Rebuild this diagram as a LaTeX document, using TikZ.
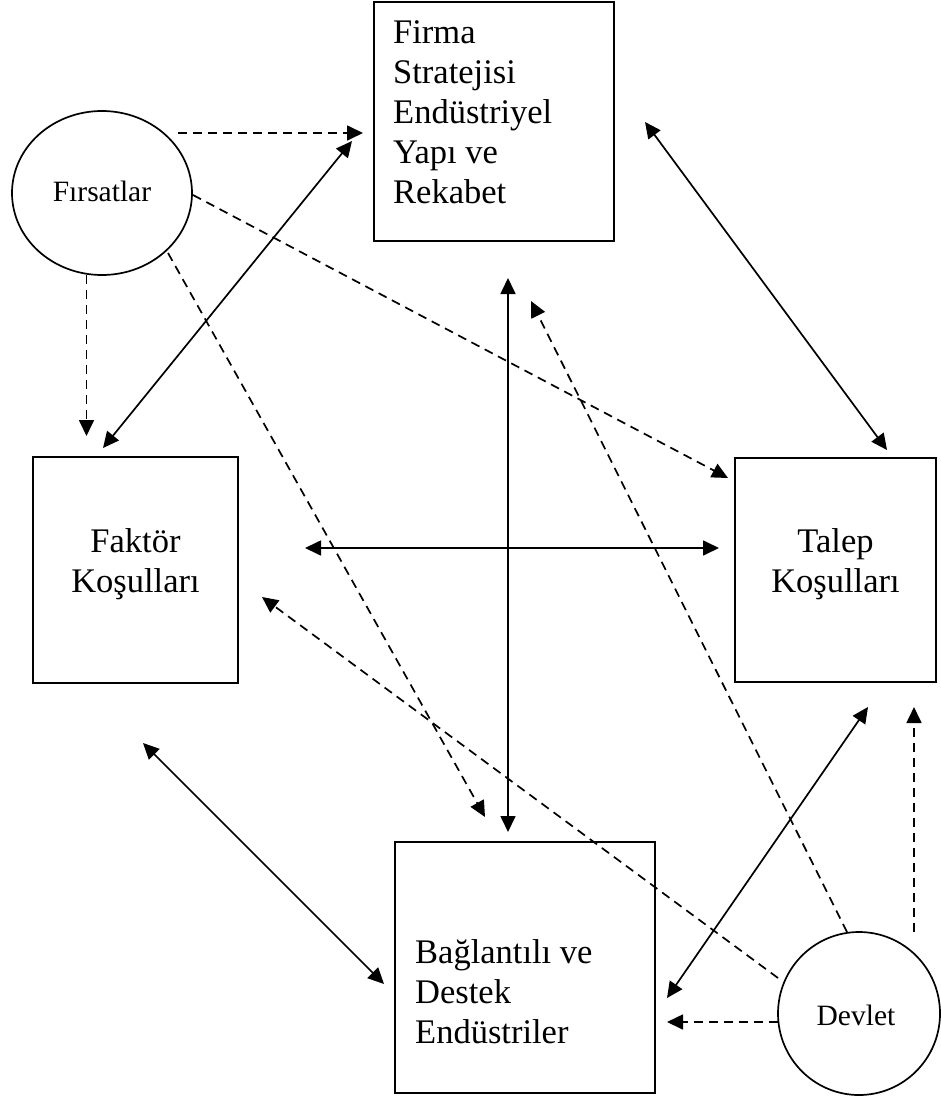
\documentclass[tikz,border=0pt]{standalone}
\usepackage{fontspec}
\setmainfont{Liberation Serif}
\usetikzlibrary{arrows.meta,shapes.geometric}
\begin{document}
\begin{tikzpicture}[x=1pt,y=-1pt,
  box/.style={draw,line width=2pt,inner sep=0pt},
  oval/.style={draw,ellipse,line width=1.7pt,inner sep=0pt},
  boxtext/.style={inner sep=0pt,font=\fontsize{34.5}{40}\selectfont},
  ovaltext/.style={inner sep=0pt,font=\fontsize{29.5}{34}\selectfont},
  link/.style={line width=1.7pt,-{Triangle[length=16pt,width=15pt]}},
  twoway/.style={line width=1.7pt,{Triangle[length=16pt,width=15pt]}-{Triangle[length=16pt,width=15pt]}},
  dashlink/.style={link,dash pattern=on 9pt off 6pt}]
\useasboundingbox (0,0) rectangle (940,1107);

% boxes and ovals
\node[box,minimum width=240pt,minimum height=239pt] (firma) at (494,121.5) {};
\node[box,minimum width=205pt,minimum height=226pt] (faktor) at (135.5,570) {};
\node[box,minimum width=201pt,minimum height=224pt] (talep) at (835.5,570) {};
\node[box,minimum width=260pt,minimum height=251pt] (baglanti) at (525,967.5) {};
\node[oval,minimum width=180pt,minimum height=164pt] (firsat) at (102,193) {};
\node[oval,minimum width=162pt,minimum height=163pt] (devlet) at (859,1013.5) {};

% labels
\node[boxtext,anchor=base west] (firmatxt) at (393,44)
  {\begin{tabular}[t]{@{}l@{}}Firma\\Stratejisi\\Endüstriyel\\Yapı ve\\Rekabet\end{tabular}};
\node[boxtext,anchor=base] (faktortxt) at (135.5,552)
  {\begin{tabular}[t]{@{}c@{}}Faktör\\Koşulları\end{tabular}};
\node[boxtext,anchor=base] (taleptxt) at (835.5,552)
  {\begin{tabular}[t]{@{}c@{}}Talep\\Koşulları\end{tabular}};
\node[boxtext,anchor=base west] (baglantitxt) at (415,963)
  {\begin{tabular}[t]{@{}l@{}}Bağlantılı ve\\Destek\\Endüstriler\end{tabular}};
\node[ovaltext,anchor=base] (firsattxt) at (102,202) {Fırsatlar};
\node[ovaltext,anchor=base] (devlettxt) at (856,1025) {Devlet};

% connector ends
\coordinate (fA) at (178,133);   \coordinate (fmA) at (363,133);
\coordinate (fkA) at (103,448);  \coordinate (fmB) at (352,141);
\coordinate (fB) at (86.5,275);  \coordinate (fkB) at (86.5,436);
\coordinate (fC) at (193,195);   \coordinate (tlA) at (728,478);
\coordinate (fD) at (168,253);   \coordinate (bgA) at (485,817);
\coordinate (fmC) at (645,122);  \coordinate (tlB) at (887,450);
\coordinate (fmD) at (508,278);  \coordinate (bgB) at (508,832);
\coordinate (fkC) at (305,548);  \coordinate (tlC) at (719,548);
\coordinate (dA) at (847,932);   \coordinate (fmE) at (531,301);
\coordinate (dB) at (778,978);   \coordinate (fkD) at (262,597);
\coordinate (fkE) at (143,743);  \coordinate (bgC) at (384,984);
\coordinate (tlD) at (868,707);  \coordinate (bgD) at (667,998);
\coordinate (dC) at (914,932);   \coordinate (tlE) at (914,707);
\coordinate (dD) at (778,1022);  \coordinate (bgE) at (667,1022);

% influences of chance
\draw[dashlink] (fA) -- (fmA);
\draw[dashlink] (fB) -- (fkB);
\draw[dashlink] (fC) -- (tlA);
\draw[dashlink] (fD) -- (bgA);

% diamond links
\draw[twoway] (fkA) -- (fmB);
\draw[twoway] (fmC) -- (tlB);
\draw[twoway] (fmD) -- (bgB);
\draw[twoway] (fkC) -- (tlC);
\draw[twoway] (fkE) -- (bgC);
\draw[twoway] (tlD) -- (bgD);

% influences of government
\draw[dashlink] (dA) -- (fmE);
\draw[dashlink] (dB) -- (fkD);
\draw[dashlink] (dC) -- (tlE);
\draw[dashlink] (dD) -- (bgE);
\end{tikzpicture}
\end{document}
